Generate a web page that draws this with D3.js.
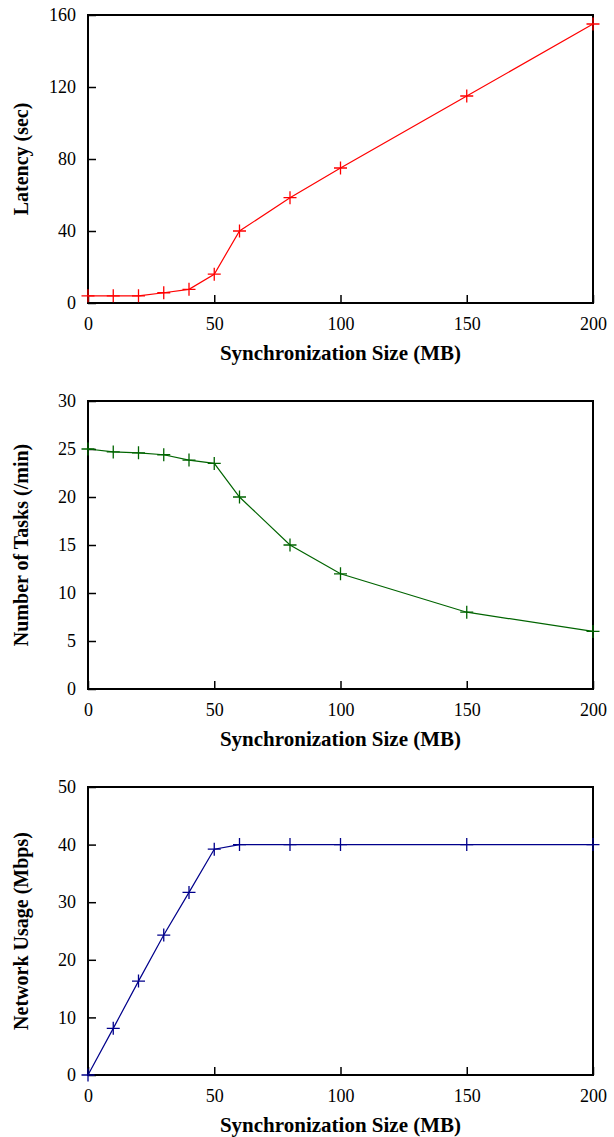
<!DOCTYPE html>
<html>
<head>
<meta charset="utf-8">
<script src="https://cdn.jsdelivr.net/npm/d3@7"></script>
<style>
  body { margin: 0; background: #fff; }
  svg { display: block; }
</style>
</head>
<body>
<svg id="chart" width="614" height="1137"></svg>
<script>
// Data
const sizes = [0, 10, 20, 30, 40, 50, 60, 80, 100, 150, 200];
const latency = [4, 4, 4, 5.7, 7.6, 16, 40, 58.5, 75, 115, 155];
const tasks = [25, 24.7, 24.6, 24.4, 23.85, 23.5, 20, 15, 12, 8, 6];
const network = [0, 8.1, 16.3, 24.3, 31.7, 39.2, 40, 40, 40, 40, 40];

const xTicks = [0, 50, 100, 150, 200];
const latencyTicks = [0, 40, 80, 120, 160];
const tasksTicks = [0, 5, 10, 15, 20, 25, 30];
const networkTicks = [0, 10, 20, 30, 40, 50];

const xTitle = "Synchronization Size (MB)";

const svg = d3.select("#chart");
const left = 88, right = 593, plotH = 288;

const xScale = d3.scaleLinear().domain([0, 200]).range([left, right]);

const panels = [
  { top: 15, values: latency, ticks: latencyTicks, max: 160, label: "Latency (sec)", color: "#ff0000" },
  { top: 401, values: tasks, ticks: tasksTicks, max: 30, label: "Number of Tasks (/min)", color: "#006400" },
  { top: 787, values: network, ticks: networkTicks, max: 50, label: "Network Usage (Mbps)", color: "#00008b" }
];

panels.forEach(p => {
  const bottom = p.top + plotH;
  const yScale = d3.scaleLinear().domain([0, p.max]).range([bottom, p.top]);
  const g = svg.append("g");

  // Axes with inward ticks (gnuplot style)
  const yAxis = d3.axisLeft(yScale).tickValues(p.ticks).tickSizeInner(-8).tickSizeOuter(0).tickPadding(12);
  const xAxis = d3.axisBottom(xScale).tickValues(xTicks).tickSizeInner(-8).tickSizeOuter(0).tickPadding(14);

  g.append("g")
    .attr("transform", `translate(${left},0)`)
    .call(yAxis)
    .call(s => s.select(".domain").remove());

  g.append("g")
    .attr("transform", `translate(0,${bottom})`)
    .call(xAxis)
    .call(s => s.select(".domain").remove());

  g.selectAll(".tick line").attr("stroke", "#000").attr("stroke-width", 1.5);
  g.selectAll(".tick text")
    .style("font-family", "'Liberation Serif', 'DejaVu Serif', serif")
    .style("font-size", "18px")
    .attr("fill", "#000");

  // Border box
  g.append("rect")
    .attr("x", left)
    .attr("y", p.top)
    .attr("width", right - left)
    .attr("height", plotH)
    .attr("fill", "none")
    .attr("stroke", "#000")
    .attr("stroke-width", 2);

  // Line
  const line = d3.line()
    .x((d, i) => xScale(sizes[i]))
    .y(d => yScale(d));

  g.append("path")
    .datum(p.values)
    .attr("d", line)
    .attr("fill", "none")
    .attr("stroke", p.color)
    .attr("stroke-width", 1.2);

  // "+" markers
  const arm = 6.5;
  g.selectAll(".pt")
    .data(p.values)
    .enter()
    .append("path")
    .attr("class", "pt")
    .attr("d", (d, i) => {
      const cx = xScale(sizes[i]), cy = yScale(d);
      return `M${cx - arm},${cy}H${cx + arm}M${cx},${cy - arm}V${cy + arm}`;
    })
    .attr("fill", "none")
    .attr("stroke", p.color)
    .attr("stroke-width", 1.3);

  // Axis titles
  g.append("text")
    .attr("x", (left + right) / 2)
    .attr("y", bottom + 57)
    .attr("text-anchor", "middle")
    .style("font-family", "'Liberation Serif', 'DejaVu Serif', serif")
    .style("font-weight", "bold")
    .style("font-size", "21px")
    .text(xTitle);

  g.append("text")
    .attr("transform", `translate(28,${(p.top + bottom) / 2}) rotate(-90)`)
    .attr("text-anchor", "middle")
    .style("font-family", "'Liberation Serif', 'DejaVu Serif', serif")
    .style("font-weight", "bold")
    .style("font-size", "20px")
    .text(p.label);
});
</script>
</body>
</html>
